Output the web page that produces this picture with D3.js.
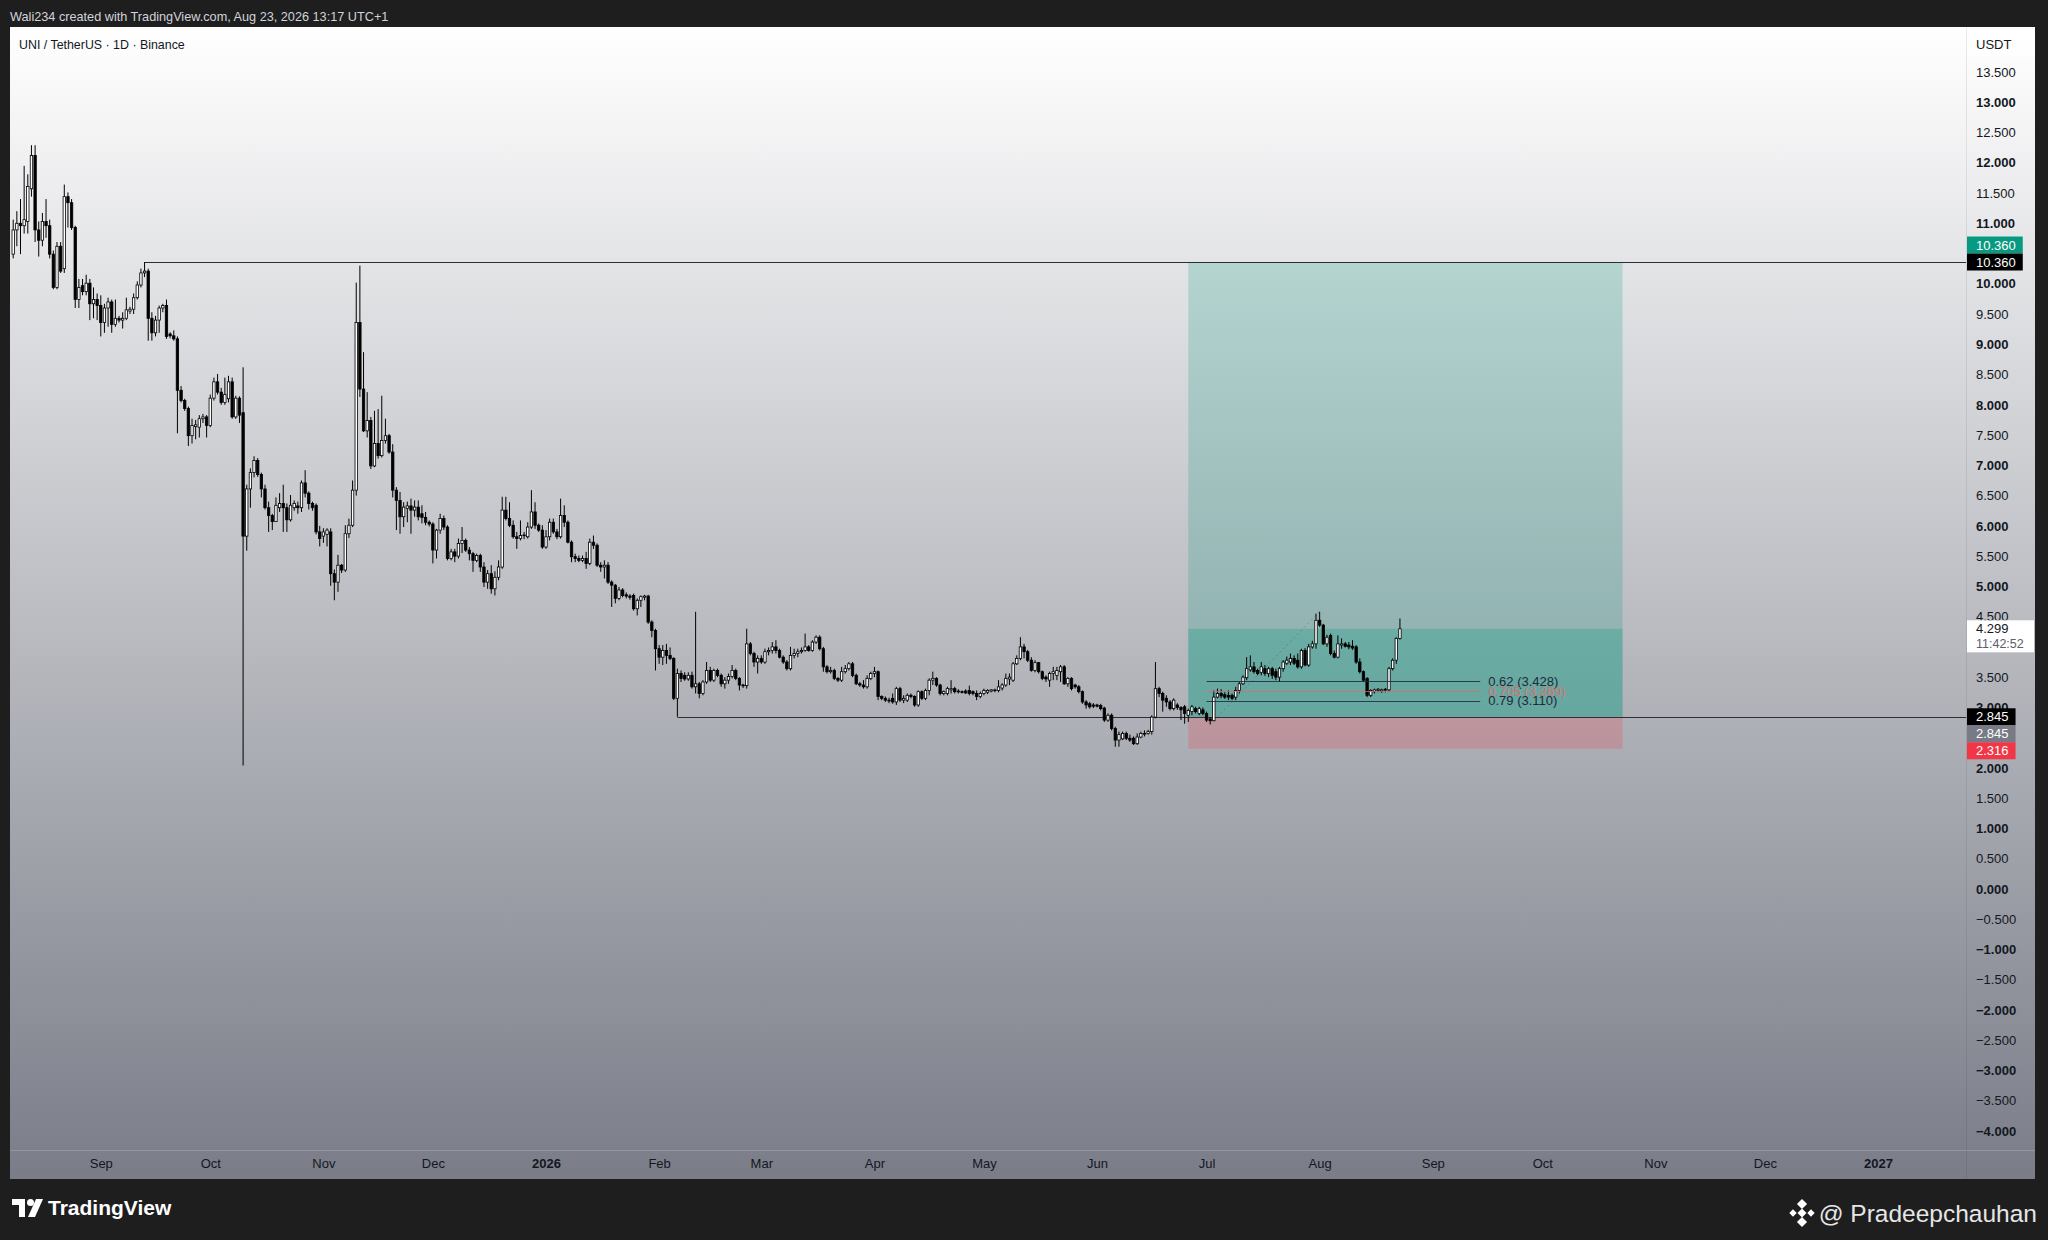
<!DOCTYPE html>
<html>
<head>
<meta charset="utf-8">
<title>UNI / TetherUS · 1D · Binance</title>
<script src="https://d3js.org/d3.v7.min.js"></script>
<style>
    html, body { margin: 0; padding: 0; background: #1e1e1e; }
    svg { display: block; }
    text { font-family: "Liberation Sans", Arial, sans-serif; }
</style>
</head>
<body>
<svg id="chart" width="2048" height="1240"></svg>
<script>
// daily candles [open, high, low, close], first bar on 2025-08-08
const firstDay = '2025-08-08';
const candles = [
  [10.49,11.06,10.42,10.89],[10.89,11.20,10.62,11.00],[11.00,11.40,10.49,10.96],[10.96,11.95,10.83,11.06],
  [11.03,11.81,10.83,11.61],[11.57,12.29,11.44,12.12],[12.12,12.29,10.69,10.89],[10.89,11.03,10.45,10.72],
  [10.72,11.17,10.62,11.03],[11.03,11.40,10.76,10.96],[10.96,11.06,10.42,10.49],[10.49,10.55,9.91,9.94],
  [9.94,10.69,9.91,10.62],[10.62,10.69,10.18,10.21],[10.25,11.64,10.18,11.44],[11.44,11.51,10.93,11.34],
  [11.34,11.40,10.89,10.93],[10.93,10.96,9.60,9.74],[9.74,10.08,9.60,9.94],[9.97,10.08,9.81,9.87],
  [9.87,10.15,9.81,10.01],[10.01,10.08,9.40,9.67],[9.67,9.94,9.43,9.74],[9.74,9.84,9.40,9.64],
  [9.64,9.81,9.13,9.36],[9.36,9.67,9.19,9.60],[9.60,9.77,9.29,9.70],[9.70,9.74,9.19,9.33],
  [9.33,9.74,9.29,9.43],[9.43,9.47,9.36,9.40],[9.40,9.53,9.26,9.43],[9.43,9.77,9.40,9.57],
  [9.55,9.62,9.50,9.58],[9.58,9.84,9.50,9.77],[9.77,10.04,9.74,9.98],[9.98,10.25,9.94,10.18],
  [10.18,10.36,10.11,10.21],[10.21,10.25,9.06,9.43],[9.43,9.53,9.06,9.19],[9.19,9.47,9.13,9.40],
  [9.40,9.64,9.19,9.60],[9.60,9.67,9.53,9.64],[9.64,9.74,9.09,9.13],[9.17,9.20,9.10,9.14],
  [9.14,9.23,9.06,9.09],[9.09,9.13,7.53,8.24],[8.24,8.31,8.04,8.07],[8.07,8.10,7.90,7.94],
  [7.94,7.97,7.32,7.49],[7.49,7.77,7.36,7.66],[7.64,7.75,7.43,7.67],[7.63,7.83,7.46,7.77],
  [7.77,7.85,7.70,7.80],[7.80,7.83,7.46,7.66],[7.66,8.17,7.63,8.11],[8.11,8.45,8.07,8.38],
  [8.38,8.51,8.17,8.21],[8.21,8.28,8.00,8.04],[8.04,8.45,8.00,8.17],[8.10,8.48,8.04,8.38],
  [8.38,8.45,7.77,7.80],[7.80,8.15,7.77,8.11],[8.11,8.14,7.70,7.83],[7.87,8.62,2.04,5.83],
  [5.83,6.68,5.59,6.61],[6.61,6.95,6.30,6.88],[6.88,7.15,6.80,7.08],[7.08,7.12,6.81,6.85],
  [6.85,6.88,6.47,6.61],[6.61,6.68,6.27,6.30],[6.30,6.40,5.90,6.17],[6.17,6.20,5.93,6.07],
  [6.07,6.47,6.07,6.34],[6.30,6.54,6.23,6.37],[6.37,6.68,5.90,6.30],[6.30,6.37,5.90,6.10],
  [6.10,6.51,6.07,6.34],[6.30,6.42,6.25,6.37],[6.33,6.40,6.20,6.30],[6.30,6.75,6.23,6.71],
  [6.71,6.92,6.47,6.54],[6.54,6.57,6.27,6.37],[6.37,6.40,6.25,6.30],[6.34,6.37,5.86,5.90],
  [5.90,6.00,5.66,5.79],[5.83,5.96,5.72,5.90],[5.86,5.96,5.66,5.93],[5.90,5.96,5.01,5.21],
  [5.21,5.28,4.77,5.07],[5.07,5.52,4.91,5.35],[5.35,5.37,5.22,5.27],[5.27,6.01,5.24,5.87],
  [5.87,6.12,5.80,6.01],[6.01,6.75,5.98,6.59],[6.59,10.02,6.50,9.36],[9.36,10.30,8.13,8.26],
  [8.26,8.87,7.55,7.57],[7.57,8.21,7.46,7.74],[7.74,7.80,6.94,6.99],[6.99,7.90,6.97,7.36],
  [7.36,7.93,7.11,7.16],[7.16,8.15,7.13,7.41],[7.41,7.77,7.36,7.49],[7.49,7.52,7.19,7.22],
  [7.22,7.35,6.47,6.59],[6.59,6.64,5.93,6.42],[6.42,6.56,5.87,6.15],[6.15,6.39,5.98,6.31],
  [6.29,6.40,6.06,6.33],[6.33,6.45,5.87,6.26],[6.26,6.42,6.15,6.31],[6.31,6.42,6.09,6.15],
  [6.20,6.34,6.04,6.14],[6.14,6.23,6.01,6.06],[6.06,6.09,5.99,6.03],[6.03,6.06,5.38,5.60],
  [5.60,5.95,5.46,5.93],[5.93,6.20,5.87,6.12],[6.12,6.17,5.93,5.98],[5.98,6.01,5.43,5.46],
  [5.46,5.62,5.43,5.57],[5.57,5.62,5.40,5.50],[5.50,5.79,5.46,5.71],[5.71,5.98,5.55,5.76],
  [5.76,5.79,5.57,5.60],[5.60,5.65,5.43,5.54],[5.54,5.57,5.24,5.43],[5.43,5.54,5.40,5.51],
  [5.51,5.54,5.24,5.32],[5.32,5.40,4.99,5.07],[5.07,5.27,4.96,5.21],[5.21,5.35,4.88,4.96],
  [4.96,5.25,4.85,5.15],[5.15,5.43,5.10,5.32],[5.32,6.48,5.29,6.26],[6.26,6.48,6.09,6.12],
  [6.12,6.39,5.98,6.01],[6.01,6.09,5.79,5.82],[5.82,5.90,5.62,5.79],[5.79,6.09,5.76,5.84],
  [5.84,5.90,5.78,5.85],[5.82,6.06,5.79,5.98],[5.98,6.59,5.95,6.23],[6.23,6.39,5.95,6.01],
  [6.01,6.04,5.90,5.93],[5.93,6.01,5.62,5.65],[5.65,5.93,5.62,5.82],[5.82,6.12,5.76,6.06],
  [6.06,6.12,5.87,5.90],[5.90,5.95,5.78,5.82],[5.82,6.45,5.79,6.17],[6.17,6.34,5.98,6.06],
  [6.06,6.09,5.71,5.73],[5.73,5.76,5.40,5.49],[5.49,5.54,5.40,5.46],[5.46,5.51,5.40,5.43],
  [5.43,5.51,5.40,5.46],[5.46,5.57,5.29,5.38],[5.38,5.79,5.35,5.73],[5.73,5.84,5.62,5.68],
  [5.68,5.71,5.32,5.35],[5.35,5.40,5.24,5.32],[5.32,5.43,5.13,5.35],[5.35,5.40,5.04,5.07],
  [5.07,5.10,4.66,5.02],[5.02,5.04,4.72,4.80],[4.80,4.99,4.77,4.94],[4.94,4.97,4.82,4.85],
  [4.86,4.90,4.80,4.84],[4.84,4.87,4.78,4.82],[4.85,4.88,4.60,4.63],[4.63,4.80,4.52,4.77],
  [4.77,4.85,4.66,4.83],[4.82,4.86,4.77,4.84],[4.84,4.86,4.38,4.41],[4.41,4.44,4.16,4.27],
  [4.27,4.30,3.61,3.97],[3.97,4.03,3.72,3.83],[3.83,4.03,3.70,3.94],[3.94,4.05,3.72,3.86],
  [3.86,3.99,3.78,3.81],[3.81,3.83,3.12,3.15],[3.15,3.64,2.845,3.56],[3.56,3.61,3.42,3.48],
  [3.53,3.58,3.44,3.47],[3.47,3.58,3.44,3.53],[3.53,3.59,3.31,3.34],[3.34,4.58,3.23,3.39],
  [3.39,3.42,3.15,3.23],[3.23,3.45,3.20,3.42],[3.42,3.75,3.39,3.61],[3.61,3.67,3.42,3.45],
  [3.45,3.64,3.42,3.61],[3.61,3.64,3.50,3.53],[3.53,3.56,3.34,3.39],[3.39,3.50,3.31,3.45],
  [3.45,3.56,3.39,3.51],[3.51,3.70,3.48,3.61],[3.61,3.64,3.45,3.48],[3.48,3.50,3.28,3.37],
  [3.37,3.39,3.32,3.36],[3.36,4.30,3.31,4.05],[4.05,4.08,3.86,3.89],[3.89,3.92,3.67,3.75],
  [3.75,3.86,3.56,3.81],[3.81,3.86,3.72,3.75],[3.75,3.97,3.72,3.92],[3.92,3.99,3.86,3.94],
  [3.94,4.08,3.89,4.00],[4.00,4.11,3.89,3.94],[3.94,3.97,3.81,3.83],[3.83,3.86,3.72,3.75],
  [3.75,3.78,3.61,3.64],[3.64,4.00,3.61,3.86],[3.86,3.97,3.81,3.89],[3.89,3.97,3.83,3.92],
  [3.92,3.99,3.89,3.94],[3.94,4.22,3.92,4.00],[4.00,4.03,3.92,3.94],[3.94,4.11,3.92,4.08],
  [4.08,4.19,4.05,4.16],[4.16,4.19,3.94,3.97],[3.97,4.00,3.59,3.67],[3.67,3.70,3.56,3.59],
  [3.59,3.67,3.56,3.61],[3.61,3.64,3.45,3.48],[3.48,3.50,3.42,3.45],[3.45,3.67,3.42,3.59],
  [3.59,3.70,3.56,3.64],[3.64,3.75,3.61,3.72],[3.72,3.75,3.50,3.53],[3.53,3.56,3.37,3.39],
  [3.39,3.42,3.34,3.37],[3.37,3.45,3.31,3.34],[3.34,3.53,3.31,3.48],[3.48,3.59,3.45,3.56],
  [3.56,3.67,3.50,3.59],[3.59,3.61,3.12,3.18],[3.18,3.20,3.12,3.15],[3.15,3.18,3.09,3.12],
  [3.12,3.16,3.07,3.11],[3.15,3.23,3.06,3.09],[3.09,3.34,3.04,3.31],[3.31,3.34,3.09,3.12],
  [3.12,3.20,3.07,3.15],[3.12,3.23,3.09,3.20],[3.20,3.23,3.15,3.18],[3.18,3.20,3.01,3.04],
  [3.04,3.28,3.01,3.26],[3.26,3.28,3.12,3.15],[3.15,3.31,3.12,3.28],[3.28,3.48,3.20,3.45],
  [3.45,3.59,3.37,3.48],[3.48,3.50,3.34,3.37],[3.37,3.39,3.20,3.23],[3.23,3.28,3.20,3.26],
  [3.23,3.34,3.20,3.31],[3.29,3.45,3.23,3.31],[3.31,3.34,3.23,3.26],[3.27,3.30,3.23,3.26],
  [3.26,3.28,3.23,3.25],[3.27,3.30,3.22,3.24],[3.28,3.36,3.20,3.23],[3.26,3.28,3.20,3.23],
  [3.23,3.28,3.12,3.18],[3.18,3.26,3.15,3.23],[3.23,3.31,3.20,3.28],[3.25,3.30,3.22,3.28],
  [3.27,3.30,3.25,3.29],[3.28,3.31,3.25,3.29],[3.28,3.45,3.25,3.34],[3.32,3.40,3.28,3.37],
  [3.37,3.56,3.34,3.48],[3.47,3.56,3.37,3.50],[3.45,3.75,3.42,3.72],[3.72,3.86,3.70,3.81],
  [3.81,4.16,3.78,4.00],[4.00,4.05,3.81,3.92],[3.92,3.95,3.75,3.78],[3.78,3.83,3.59,3.61],
  [3.61,3.78,3.58,3.74],[3.74,3.75,3.56,3.59],[3.59,3.61,3.45,3.48],[3.50,3.53,3.42,3.47],
  [3.45,3.59,3.34,3.56],[3.56,3.67,3.45,3.59],[3.53,3.67,3.45,3.61],[3.59,3.70,3.42,3.67],
  [3.67,3.70,3.37,3.39],[3.39,3.50,3.34,3.48],[3.48,3.50,3.28,3.31],[3.37,3.39,3.31,3.34],
  [3.34,3.37,3.23,3.26],[3.26,3.28,3.06,3.09],[3.09,3.12,2.98,3.04],[3.06,3.09,2.98,3.01],
  [3.04,3.07,2.99,3.02],[3.04,3.06,3.00,3.02],[3.03,3.06,2.95,2.98],[2.99,3.01,2.76,2.79],
  [2.79,2.90,2.76,2.87],[2.87,2.90,2.62,2.65],[2.65,2.68,2.35,2.46],[2.46,2.60,2.35,2.55],
  [2.48,2.60,2.46,2.57],[2.57,2.60,2.46,2.49],[2.49,2.55,2.43,2.46],[2.49,2.52,2.38,2.40],
  [2.40,2.57,2.38,2.51],[2.51,2.60,2.49,2.57],[2.56,2.62,2.52,2.57],[2.57,2.63,2.55,2.60],
  [2.60,2.87,2.55,2.84],[2.84,3.75,2.82,3.31],[3.31,3.34,3.17,3.23],[3.23,3.26,2.93,3.12],
  [3.15,3.20,3.01,3.09],[3.09,3.12,2.95,2.98],[2.98,3.15,2.95,3.12],[3.04,3.07,2.96,3.00],
  [3.00,3.02,2.79,2.96],[3.01,3.04,2.73,2.90],[2.87,2.98,2.76,2.95],[2.93,3.04,2.87,3.01],
  [2.98,3.01,2.90,2.93],[2.90,3.01,2.87,2.98],[2.96,3.00,2.87,2.90],[2.90,2.93,2.76,2.79],
  [2.81,2.84,2.72,2.78],[2.78,3.28,2.77,3.17],[3.17,3.31,3.15,3.23],[3.23,3.30,3.15,3.19],
  [3.21,3.25,3.14,3.17],[3.20,3.28,3.12,3.17],[3.20,3.23,3.12,3.15],[3.17,3.34,3.12,3.28],
  [3.28,3.42,3.23,3.39],[3.39,3.53,3.37,3.50],[3.49,3.83,3.45,3.64],[3.62,3.86,3.59,3.67],
  [3.67,3.75,3.56,3.59],[3.61,3.64,3.53,3.56],[3.58,3.75,3.53,3.67],[3.64,3.70,3.52,3.56],
  [3.56,3.67,3.50,3.64],[3.64,3.67,3.47,3.53],[3.59,3.64,3.45,3.50],[3.50,3.67,3.42,3.64],
  [3.64,3.78,3.59,3.75],[3.73,3.84,3.70,3.78],[3.75,3.89,3.70,3.81],[3.81,3.86,3.70,3.73],
  [3.78,3.89,3.64,3.67],[3.67,3.97,3.64,3.94],[3.94,3.98,3.68,3.70],[3.70,4.05,3.67,4.00],
  [4.00,4.10,3.97,4.05],[4.05,4.55,3.97,4.44],[4.44,4.58,4.33,4.36],[4.36,4.38,4.03,4.05],
  [4.05,4.20,4.00,4.16],[4.19,4.22,3.86,3.89],[3.89,3.94,3.81,3.83],[3.83,4.19,3.81,4.05],
  [4.03,4.14,3.97,4.05],[4.05,4.08,3.99,4.01],[4.03,4.08,3.96,4.00],[4.01,4.11,3.95,3.98],
  [4.00,4.03,3.72,3.75],[3.75,3.81,3.56,3.59],[3.59,3.61,3.42,3.45],[3.48,3.50,3.17,3.20],
  [3.20,3.30,3.17,3.28],[3.26,3.31,3.23,3.29],[3.28,3.32,3.25,3.30],[3.27,3.31,3.24,3.29],
  [3.29,3.32,3.25,3.30],[3.29,3.67,3.26,3.64],[3.64,3.81,3.61,3.78],[3.78,4.16,3.72,4.14],
  [4.14,4.47,4.12,4.299]
];

// visible price axis labels (10.5, 4.0 and 2.5 sit under the price labels)
const priceTicks = [-4, -3.5, -3, -2.5, -2, -1.5, -1, -0.5, 0, 0.5, 1, 1.5, 2, 3, 3.5, 4.5,
                    5, 5.5, 6, 6.5, 7, 7.5, 8, 8.5, 9, 9.5, 10, 11, 11.5, 12, 12.5, 13, 13.5];
const monthTicks = ['2025-09-01', '2025-10-01', '2025-11-01', '2025-12-01', '2026-01-01', '2026-02-01',
                    '2026-03-01', '2026-04-01', '2026-05-01', '2026-06-01', '2026-07-01', '2026-08-01',
                    '2026-09-01', '2026-10-01', '2026-11-01', '2026-12-01', '2027-01-01'];

// horizontal levels: price and the day they start from
const levelPrices = [10.36, 2.845];
const levelStarts = ['2025-09-13', '2026-02-06'];

// long position tool
const entryPrice = 2.845, targetPrice = 10.36, stopPrice = 2.316, lastPrice = 4.299;
const positionStart = '2026-06-26', positionEnd = '2026-10-23';

// fib retracement levels
const fibRatios = [0.62, 0.705, 0.79];
const fibPrices = [3.428, 3.269, 3.110];
const fibStart = '2026-07-01', fibEnd = '2026-09-14';
const fibLow = ['2026-07-02', 2.718], fibHigh = ['2026-08-01', 4.588];

const W = 2048, H = 1240;
const plotL = 10, plotR = 1966, plotT = 27, timeAxisY = 1150, frameR = 2035, frameB = 1179;

const svg = d3.select('#chart');
const defs = svg.append('defs');

const grad = defs.append('linearGradient').attr('id', 'bg')
    .attr('gradientUnits', 'userSpaceOnUse')
    .attr('x1', 0).attr('y1', plotT).attr('x2', 0).attr('y2', frameB);
grad.append('stop').attr('offset', 0).attr('stop-color', '#ffffff');
grad.append('stop').attr('offset', 1).attr('stop-color', '#7a7d88');

defs.append('clipPath').attr('id', 'plotClip')
    .append('rect').attr('x', plotL).attr('y', plotT)
    .attr('width', plotR - plotL).attr('height', timeAxisY - plotT);

const parse = d3.utcParse('%Y-%m-%d');
const x = d3.scaleUtc()
    .domain([parse('2026-01-01'), parse('2027-01-01')])
    .range([546, 1878]);
const y = d3.scaleLinear().domain([13.5, -4]).range([72, 1131]);

const start = parse(firstDay);
const rows = candles.map((d, i) => ({
    date: d3.utcDay.offset(start, i), o: d[0], h: d[1], l: d[2], c: d[3]
}));

// frame and background
svg.append('rect').attr('width', W).attr('height', H).attr('fill', '#1e1e1e');
svg.append('rect').attr('x', plotL).attr('y', plotT)
    .attr('width', frameR - plotL).attr('height', frameB - plotT)
    .attr('fill', 'url(#bg)');

// axis panels borders
svg.append('line').attr('x1', plotR + 0.5).attr('x2', plotR + 0.5)
    .attr('y1', plotT).attr('y2', frameB)
    .attr('stroke', 'rgba(0,0,0,0.08)');
svg.append('line').attr('x1', plotL).attr('x2', frameR)
    .attr('y1', timeAxisY + 0.5).attr('y2', timeAxisY + 0.5)
    .attr('stroke', 'rgba(255,255,255,0.18)');
svg.append('rect').attr('x', plotR + 1).attr('y', plotT)
    .attr('width', frameR - plotR - 1).attr('height', 30)
    .attr('fill', 'rgba(255,255,255,0.6)');

const plot = svg.append('g').attr('clip-path', 'url(#plotClip)');

// long position zones
const px0 = x(parse(positionStart)), px1 = x(parse(positionEnd));
plot.append('rect').attr('x', px0).attr('width', px1 - px0)
    .attr('y', y(targetPrice)).attr('height', y(entryPrice) - y(targetPrice))
    .attr('fill', 'rgba(8,153,129,0.22)');
plot.append('rect').attr('x', px0).attr('width', px1 - px0)
    .attr('y', y(lastPrice)).attr('height', y(entryPrice) - y(lastPrice))
    .attr('fill', 'rgba(8,153,129,0.28)');
plot.append('rect').attr('x', px0).attr('width', px1 - px0)
    .attr('y', y(entryPrice)).attr('height', y(stopPrice) - y(entryPrice))
    .attr('fill', 'rgba(242,54,69,0.22)');

// horizontal levels
plot.selectAll('line.level').data(levelPrices).join('line')
    .attr('class', 'level')
    .attr('x1', (d, i) => x(parse(levelStarts[i])))
    .attr('x2', plotR)
    .attr('y1', d => Math.round(y(d)) + 0.5)
    .attr('y2', d => Math.round(y(d)) + 0.5)
    .attr('stroke', '#2a2e39').attr('stroke-width', 1);

// fib trend line
plot.append('line')
    .attr('x1', x(parse(fibLow[0]))).attr('y1', y(fibLow[1]))
    .attr('x2', x(parse(fibHigh[0]))).attr('y2', y(fibHigh[1]))
    .attr('stroke', 'rgba(60,60,60,0.3)').attr('stroke-dasharray', '2,3');

// candles
const bw = 2.4;
plot.selectAll('line.wick').data(rows).join('line')
    .attr('class', 'wick')
    .attr('x1', d => x(d.date)).attr('x2', d => x(d.date))
    .attr('y1', d => y(d.h)).attr('y2', d => y(d.l))
    .attr('stroke', '#000').attr('stroke-width', 1);
plot.selectAll('rect.body').data(rows).join('rect')
    .attr('class', 'body')
    .attr('x', d => x(d.date) - bw / 2).attr('width', bw)
    .attr('y', d => y(Math.max(d.o, d.c)))
    .attr('height', d => Math.max(0.8, Math.abs(y(d.o) - y(d.c))))
    .attr('fill', d => d.c >= d.o ? '#ffffff' : '#000000')
    .attr('stroke', '#000').attr('stroke-width', 0.8);

// fib levels
const fx0 = x(parse(fibStart)), fx1 = x(parse(fibEnd));
const fibColors = ['#1c2b3a', '#e06a6a', '#1c2b3a'];
plot.selectAll('line.fib').data(fibPrices).join('line')
    .attr('class', 'fib')
    .attr('x1', fx0).attr('x2', fx1)
    .attr('y1', d => Math.round(y(d)) + 0.5).attr('y2', d => Math.round(y(d)) + 0.5)
    .attr('stroke', (d, i) => fibColors[i]).attr('stroke-opacity', (d, i) => i === 1 ? 0.75 : 0.85);
plot.selectAll('text.fib').data(fibPrices).join('text')
    .attr('class', 'fib')
    .attr('x', fx1 + 8).attr('y', d => y(d))
    .attr('dy', '0.36em')
    .attr('font-size', 13)
    .attr('fill', (d, i) => fibColors[i]).attr('fill-opacity', (d, i) => i === 1 ? 0.9 : 1)
    .text((d, i) => `${fibRatios[i]} (${d.toFixed(3)})`);

// price axis
const fmtPrice = v => (v < 0 ? '\u2212' : '') + Math.abs(v).toFixed(3);
const yAxis = d3.axisRight(y).tickValues(priceTicks).tickSize(0).tickPadding(10)
    .tickFormat(fmtPrice);
const yg = svg.append('g').attr('transform', `translate(${plotR},0)`).call(yAxis);
yg.select('.domain').remove();
yg.selectAll('text')
    .attr('font-size', 13).attr('fill', '#131722')
    .attr('font-family', '"Liberation Sans", Arial, sans-serif')
    .attr('font-weight', d => Number.isInteger(d) ? 'bold' : 'normal');

svg.append('text').attr('x', plotR + 10).attr('y', 44).attr('dy', '0.35em')
    .attr('font-size', 13).attr('fill', '#131722').text('USDT');

// time axis
const xAxis = d3.axisBottom(x).tickValues(monthTicks.map(parse)).tickSize(0).tickPadding(9)
    .tickFormat(d => d.getUTCMonth() === 0 ? d3.utcFormat('%Y')(d) : d3.utcFormat('%b')(d));
const xg = svg.append('g').attr('transform', `translate(0,${timeAxisY})`).call(xAxis);
xg.select('.domain').remove();
xg.selectAll('text')
    .attr('font-size', 13).attr('fill', '#131722')
    .attr('font-family', '"Liberation Sans", Arial, sans-serif')
    .attr('font-weight', d => d.getUTCMonth() === 0 ? 'bold' : 'normal');

// price labels on the axis
const labels = [
    { v: targetPrice, dy: -17, bg: '#089981' },
    { v: levelPrices[0], dy: 0, bg: '#000000' },
    { v: levelPrices[1], dy: 0, bg: '#000000' },
    { v: entryPrice, dy: 17, bg: '#787b86' },
    { v: stopPrice, dy: 34 - (y(stopPrice) - y(entryPrice)), bg: '#f23645' }
];
const lab = svg.selectAll('g.plabel').data(labels).join('g')
    .attr('class', 'plabel')
    .attr('transform', d => `translate(${plotR + 1},${y(d.v) + d.dy})`);
const labRect = lab.append('rect').attr('x', 0).attr('y', -8.5).attr('height', 17)
    .attr('fill', d => d.bg);
const labText = lab.append('text').attr('x', 9).attr('y', 0).attr('dy', '0.36em')
    .attr('font-size', 13).attr('fill', '#ffffff').text(d => d.v.toFixed(3));
labRect.attr('width', function (d, i) { return labText.nodes()[i].getComputedTextLength() + 16; });

// last price with countdown
const lp = svg.append('g').attr('transform', `translate(${plotR + 1},${y(lastPrice) - 8.5})`);
lp.append('rect').attr('width', 67).attr('height', 32).attr('fill', '#ffffff');
lp.append('text').attr('x', 9).attr('y', 8.5).attr('dy', '0.36em')
    .attr('font-size', 13).attr('fill', '#131722').text(lastPrice.toFixed(3));
lp.append('text').attr('x', 9).attr('y', 23).attr('dy', '0.36em')
    .attr('font-size', 12.5).attr('fill', '#5d606b').text('11:42:52');

// header texts
svg.append('text').attr('x', 10).attr('y', 17).attr('dy', '0.35em')
    .attr('font-size', 12.7).attr('fill', '#d1d4dc')
    .text('Wali234 created with TradingView.com, Aug 23, 2026 13:17 UTC+1');
svg.append('text').attr('x', 19).attr('y', 45).attr('dy', '0.35em')
    .attr('font-size', 12.4).attr('fill', '#131722')
    .text('UNI / TetherUS \u00b7 1D \u00b7 Binance');

// footer: TradingView logo
const logo = svg.append('g').attr('transform', 'translate(12,1199)').attr('fill', '#ffffff');
logo.append('path').attr('d', 'M0,0 H13 V18 H7 V6 H0 Z');
logo.append('circle').attr('cx', 18.5).attr('cy', 3.5).attr('r', 3.5);
logo.append('path').attr('d', 'M24,0 H31 L23,18 H16 Z');
svg.append('text').attr('x', 48).attr('y', 1208).attr('dy', '0.35em')
    .attr('font-size', 21).attr('font-weight', 'bold').attr('fill', '#ffffff')
    .attr('font-family', 'Roboto, "Liberation Sans", sans-serif')
    .text('TradingView');

// footer: author
const bn = svg.append('g').attr('transform', 'translate(1802,1213)').attr('fill', '#ffffff');
[[0, -9, 3.6], [-9, 0, 2.6], [9, 0, 2.6], [0, 9, 3.6], [0, 0, 3.2]].forEach(p => {
    bn.append('rect').attr('x', p[0] - p[2]).attr('y', p[1] - p[2])
        .attr('width', p[2] * 2).attr('height', p[2] * 2)
        .attr('transform', `rotate(45,${p[0]},${p[1]})`);
});
svg.append('text').attr('x', 2037).attr('y', 1213).attr('dy', '0.35em')
    .attr('text-anchor', 'end')
    .attr('font-size', 24.5).attr('fill', '#e6e6e6')
    .attr('font-family', '"Open Sans", "Noto Sans", sans-serif')
    .text('@ Pradeepchauhan');
</script>
</body>
</html>
